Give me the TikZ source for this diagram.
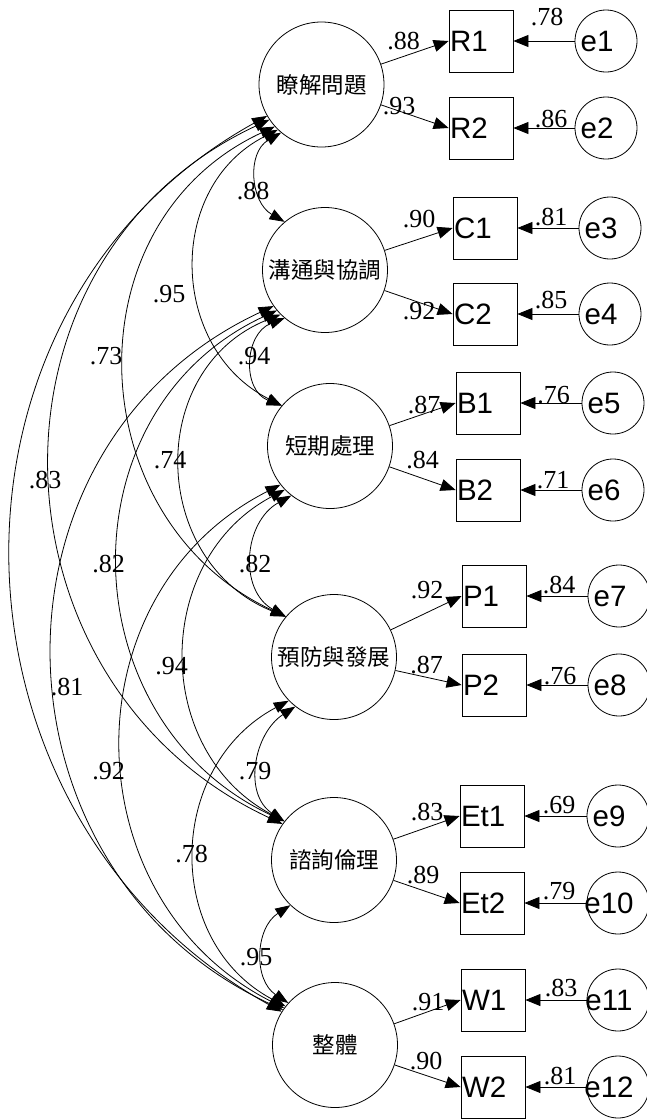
\documentclass[tikz,border=0pt]{standalone}
\usepackage{fontspec}
\setmainfont{Liberation Serif}
\newfontfamily\sansf{Liberation Sans}
\newfontfamily\cjkf{Noto Sans CJK TC}
\usetikzlibrary{arrows.meta}
\begin{document}
\begin{tikzpicture}[x=1pt,y=-1pt, line width=0.8pt,
 lat/.style={draw, circle, minimum size=125pt, inner sep=0pt, font=\cjkf\fontsize{22.5}{24}\selectfont},
 obs/.style={draw, rectangle, minimum height=62pt, minimum width=64pt, inner sep=0pt},
 obstxt/.style={anchor=west, inner sep=0pt, xshift=1pt, font=\sansf\fontsize{29.5}{30}\selectfont},
 err/.style={draw, circle, minimum size=62pt, inner sep=0pt},
 errtxt/.style={inner sep=0pt, xshift=-9pt, font=\sansf\fontsize{29.5}{30}\selectfont},
 num/.style={inner sep=0pt, font=\fontsize{26}{27}\selectfont},
 tip/.style={-{Triangle[length=15pt,width=12pt]}},
 cov/.style={{Triangle[length=15pt,width=11pt]}-{Triangle[length=15pt,width=11pt]}},
]
\useasboundingbox (0,0) rectangle (647,1120);
% latent factors
\node[lat] (F1) at (321.5,84.5) {瞭解問題};
\node[lat] (F2) at (325,270) {溝通與協調};
\node[lat] (F3) at (330,446) {短期處理};
\node[lat] (F4) at (334,657) {預防與發展};
\node[lat] (F5) at (334,860) {諮詢倫理};
\node[lat] (F6) at (335,1045) {整體};
% observed
\node[obs] (R1) at (481,41) {};
\node[obs] (R2) at (481,128) {};
\node[obs] (C1) at (485,228) {};
\node[obs] (C2) at (485,314) {};
\node[obs] (B1) at (488,403) {};
\node[obs] (B2) at (488,490) {};
\node[obs] (P1) at (494,596) {};
\node[obs] (P2) at (494,685) {};
\node[obs] (Et1) at (492,816) {};
\node[obs] (Et2) at (492,903) {};
\node[obs] (W1) at (493,1000) {};
\node[obs] (W2) at (493,1087) {};
\node[obstxt] (tR1) at (R1.west) {R1};
\node[obstxt] (tR2) at (R2.west) {R2};
\node[obstxt] (tC1) at (C1.west) {C1};
\node[obstxt] (tC2) at (C2.west) {C2};
\node[obstxt] (tB1) at (B1.west) {B1};
\node[obstxt] (tB2) at (B2.west) {B2};
\node[obstxt] (tP1) at (P1.west) {P1};
\node[obstxt] (tP2) at (P2.west) {P2};
\node[obstxt] (tEt1) at (Et1.west) {Et1};
\node[obstxt] (tEt2) at (Et2.west) {Et2};
\node[obstxt] (tW1) at (W1.west) {W1};
\node[obstxt] (tW2) at (W2.west) {W2};
% errors
\node[err] (e1) at (606,41) {};
\node[err] (e2) at (606,128) {};
\node[err] (e3) at (610,228) {};
\node[err] (e4) at (610,314) {};
\node[err] (e5) at (613,403) {};
\node[err] (e6) at (613,490) {};
\node[err] (e7) at (619,596) {};
\node[err] (e8) at (619,685) {};
\node[err] (e9) at (618,816) {};
\node[err] (e10) at (618,903) {};
\node[err] (e11) at (618,1000) {};
\node[err] (e12) at (618,1087) {};
\node[errtxt] (te1) at (e1) {e1};
\node[errtxt] (te2) at (e2) {e2};
\node[errtxt] (te3) at (e3) {e3};
\node[errtxt] (te4) at (e4) {e4};
\node[errtxt] (te5) at (e5) {e5};
\node[errtxt] (te6) at (e6) {e6};
\node[errtxt] (te7) at (e7) {e7};
\node[errtxt] (te8) at (e8) {e8};
\node[errtxt] (te9) at (e9) {e9};
\node[errtxt] (te10) at (e10) {e10};
\node[errtxt] (te11) at (e11) {e11};
\node[errtxt] (te12) at (e12) {e12};
% loadings
\draw[tip] (F1) -- (R1.west);
\draw[tip] (F1) -- (R2.west);
\draw[tip] (F2) -- (C1.west);
\draw[tip] (F2) -- (C2.west);
\draw[tip] (F3) -- (B1.west);
\draw[tip] (F3) -- (B2.west);
\draw[tip] (F4) -- (P1.west);
\draw[tip] (F4) -- (P2.west);
\draw[tip] (F5) -- (Et1.west);
\draw[tip] (F5) -- (Et2.west);
\draw[tip] (F6) -- (W1.west);
\draw[tip] (F6) -- (W2.west);
% error paths
\draw[tip] (e1) -- (R1.east);
\draw[tip] (e2) -- (R2.east);
\draw[tip] (e3) -- (C1.east);
\draw[tip] (e4) -- (C2.east);
\draw[tip] (e5) -- (B1.east);
\draw[tip] (e6) -- (B2.east);
\draw[tip] (e7) -- (P1.east);
\draw[tip] (e8) -- (P2.east);
\draw[tip] (e9) -- (Et1.east);
\draw[tip] (e10) -- (Et2.east);
\draw[tip] (e11) -- (W1.east);
\draw[tip] (e12) -- (W2.east);
% covariances
\draw[cov] (F1.230) to[out=210,in=150,looseness=1.14] (F2.130);
\draw[cov] (F2.230) to[out=201,in=159,looseness=1.26] (F3.140);
\draw[cov] (F3.232) to[out=209,in=151,looseness=1.15] (F4.140);
\draw[cov] (F4.232) to[out=213,in=147,looseness=1.10] (F5.142);
\draw[cov] (F5.226) to[out=213,in=147,looseness=1.10] (F6.138);
\draw[cov] (F1.226) to[out=207,in=153,looseness=1.17] (F3.140);
\draw[cov] (F2.225) to[out=202,in=158,looseness=1.24] (F4.140);
\draw[cov] (F3.224) to[out=208,in=152,looseness=1.16] (F5.142);
\draw[cov] (F4.224) to[out=208,in=152,looseness=1.16] (F6.142);
\draw[cov] (F1.222) to[out=205,in=155,looseness=1.19] (F4.140);
\draw[cov] (F2.220) to[out=205,in=155,looseness=1.19] (F5.142);
\draw[cov] (F3.218) to[out=207,in=153,looseness=1.17] (F6.144);
\draw[cov] (F1.214) to[out=205,in=155,looseness=1.20] (F5.145);
\draw[cov] (F2.215) to[out=205,in=155,looseness=1.20] (F6.146);
\draw[cov] (F1.210) to[out=209,in=151,looseness=1.14] (F6.148);
% loading labels
\node[num] (n1) at (403.5,41.5) {.88};
\node[num] (n2) at (399,106.5) {.93};
\node[num] (n3) at (419,219.5) {.90};
\node[num] (n4) at (419,311.5) {.92};
\node[num] (n5) at (424,405.5) {.87};
\node[num] (n6) at (422.5,460) {.84};
\node[num] (n7) at (427,590.5) {.92};
\node[num] (n8) at (426.5,665.5) {.87};
\node[num] (n9) at (427,812.5) {.83};
\node[num] (n10) at (423,875) {.89};
\node[num] (n11) at (428,1002.5) {.91};
\node[num] (n12) at (426,1061.5) {.90};
% error labels
\node[num] (m1) at (547,17.5) {.78};
\node[num] (m2) at (551,119.5) {.86};
\node[num] (m3) at (551,217.5) {.81};
\node[num] (m4) at (551,300.5) {.85};
\node[num] (m5) at (553.5,395) {.76};
\node[num] (m6) at (553,480) {.71};
\node[num] (m7) at (559,585) {.84};
\node[num] (m8) at (560,676.5) {.76};
\node[num] (m9) at (559,805) {.69};
\node[num] (m10) at (559,891.5) {.79};
\node[num] (m11) at (561,988.5) {.83};
\node[num] (m12) at (560,1076.5) {.81};
% correlation labels
\node[num] (c1) at (253,191) {.88};
\node[num] (c2) at (169,294) {.95};
\node[num] (c3) at (106,356) {.73};
\node[num] (c4) at (254,356) {.94};
\node[num] (c5) at (170,460) {.74};
\node[num] (c6) at (45,480) {.83};
\node[num] (c7) at (108.5,564) {.82};
\node[num] (c8) at (255,564) {.82};
\node[num] (c9) at (171.5,666.5) {.94};
\node[num] (c10) at (67,687) {.81};
\node[num] (c11) at (108.5,771) {.92};
\node[num] (c12) at (255,771) {.79};
\node[num] (c13) at (191.5,854) {.78};
\node[num] (c14) at (256,957.5) {.95};
\end{tikzpicture}
\end{document}
